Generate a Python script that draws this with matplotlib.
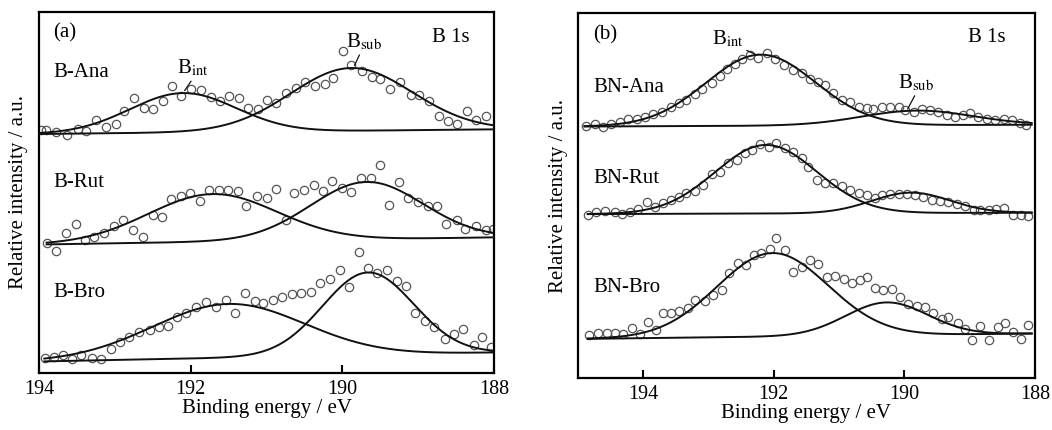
import numpy as np
import matplotlib
matplotlib.use('Agg')
import matplotlib.pyplot as plt

plt.rcParams['font.family'] = ['Liberation Serif', 'DejaVu Serif']
plt.rcParams['mathtext.fontset'] = 'stix'

# ---- panel (a): measured points, binding energy (eV) / relative intensity (a.u.)
b_ana_e = [193.98, 193.91, 193.78, 193.63, 193.49, 193.38, 193.25, 193.12, 192.99, 192.88,
           192.75, 192.61, 192.50, 192.37, 192.24, 192.13, 191.99, 191.86, 191.73, 191.62,
           191.49, 191.36, 191.24, 191.11, 191.00, 190.87, 190.74, 190.61, 190.49, 190.36,
           190.23, 190.12, 189.99, 189.88, 189.74, 189.61, 189.50, 189.37, 189.24, 189.10,
           188.99, 188.86, 188.73, 188.61, 188.49, 188.36, 188.24, 188.11]
b_ana_i = [67.2, 67.2, 66.5, 65.6, 67.4, 66.9, 69.9, 67.9, 68.7, 72.3,
           76.1, 73.3, 73.0, 75.3, 79.5, 76.5, 78.6, 78.3, 76.3, 75.3,
           76.5, 76.1, 73.3, 73.0, 75.5, 74.6, 77.4, 78.9, 80.5, 79.3,
           79.8, 81.7, 89.1, 85.1, 83.5, 82.0, 81.4, 78.6, 80.5, 77.0,
           77.0, 75.3, 70.9, 69.6, 68.8, 72.5, 69.8, 71.0]

b_rut_e = [193.89, 193.78, 193.64, 193.51, 193.39, 193.27, 193.14, 193.01, 192.89, 192.76,
           192.63, 192.50, 192.38, 192.26, 192.13, 192.01, 191.88, 191.76, 191.63, 191.51,
           191.38, 191.27, 191.13, 191.00, 190.88, 190.74, 190.64, 190.51, 190.38, 190.25,
           190.13, 190.00, 189.88, 189.76, 189.62, 189.50, 189.38, 189.25, 189.13, 189.00,
           188.87, 188.75, 188.63, 188.49, 188.38, 188.24, 188.11, 188.01]
b_rut_i = [35.5, 33.5, 38.4, 40.9, 36.5, 37.4, 38.3, 40.3, 41.9, 39.3,
           37.2, 43.3, 43.0, 47.9, 48.8, 49.5, 47.4, 50.5, 50.5, 50.5,
           50.2, 45.8, 48.7, 48.1, 50.7, 42.0, 49.5, 50.5, 51.9, 50.2,
           52.8, 51.0, 49.7, 53.7, 53.7, 57.5, 46.3, 52.7, 48.1, 47.0,
           46.0, 46.0, 40.9, 42.0, 39.5, 40.3, 39.3, 39.5]

b_bro_e = [193.92, 193.80, 193.68, 193.56, 193.44, 193.30, 193.18, 193.05, 192.93, 192.81,
           192.68, 192.54, 192.42, 192.30, 192.18, 192.06, 191.93, 191.80, 191.67, 191.54,
           191.41, 191.29, 191.15, 191.04, 190.91, 190.79, 190.66, 190.54, 190.41, 190.29,
           190.16, 190.03, 189.91, 189.78, 189.66, 189.54, 189.41, 189.28, 189.16, 189.04,
           188.91, 188.79, 188.65, 188.53, 188.41, 188.27, 188.16, 188.04]
b_bro_i = [3.5, 3.9, 4.5, 3.3, 4.5, 3.5, 3.3, 6.0, 7.9, 9.3,
           10.7, 11.3, 12.3, 12.6, 15.1, 16.0, 17.7, 19.3, 17.9, 19.7,
           16.0, 21.6, 19.5, 18.8, 19.7, 20.7, 21.4, 21.7, 22.1, 24.4,
           25.6, 28.1, 23.4, 33.2, 28.7, 27.4, 28.1, 25.1, 23.7, 16.0,
           14.0, 12.3, 8.8, 10.4, 11.6, 7.3, 9.5, 6.7]

# ---- panel (b)
bn_ana_e = [194.87, 194.74, 194.61, 194.49, 194.36, 194.23, 194.10, 193.97, 193.85, 193.71,
            193.57, 193.45, 193.34, 193.21, 193.10, 192.95, 192.83, 192.72, 192.60, 192.49,
            192.37, 192.24, 192.11, 191.98, 191.85, 191.70, 191.57, 191.45, 191.32, 191.22,
            191.09, 190.96, 190.83, 190.70, 190.58, 190.48, 190.35, 190.22, 190.09, 189.99,
            189.86, 189.73, 189.61, 189.48, 189.35, 189.22, 189.10, 188.99, 188.87, 188.74,
            188.61, 188.48, 188.35, 188.23, 188.13]
bn_ana_i = [69.0, 69.6, 68.7, 69.6, 70.2, 70.9, 71.1, 71.4, 72.3, 73.0,
            74.2, 75.3, 76.3, 77.8, 79.1, 80.9, 82.7, 84.6, 86.0, 87.3,
            88.5, 87.6, 89.0, 87.3, 85.8, 84.4, 83.7, 81.8, 81.2, 80.3,
            78.0, 76.2, 75.7, 74.2, 73.9, 73.6, 74.2, 74.2, 74.2, 73.4,
            73.0, 73.6, 73.4, 73.0, 72.1, 71.6, 72.1, 72.5, 71.4, 70.9,
            70.7, 71.1, 70.7, 69.8, 69.3]

bn_rut_e = [194.84, 194.72, 194.59, 194.44, 194.33, 194.20, 194.08, 193.95, 193.82, 193.69,
            193.57, 193.45, 193.34, 193.21, 193.08, 192.95, 192.83, 192.70, 192.57, 192.44,
            192.34, 192.21, 192.08, 191.96, 191.83, 191.70, 191.57, 191.47, 191.34, 191.22,
            191.09, 190.96, 190.83, 190.70, 190.58, 190.45, 190.35, 190.22, 190.09, 189.96,
            189.84, 189.71, 189.58, 189.45, 189.33, 189.20, 189.07, 188.94, 188.84, 188.71,
            188.60, 188.47, 188.34, 188.21, 188.10]
bn_rut_i = [44.7, 45.6, 45.8, 45.6, 44.9, 45.6, 46.2, 48.3, 46.8, 48.0,
            48.8, 49.7, 50.6, 51.3, 52.9, 55.9, 56.5, 58.8, 59.7, 61.7,
            62.6, 64.1, 63.4, 64.5, 62.9, 62.0, 60.2, 57.9, 54.2, 53.5,
            53.3, 52.6, 51.5, 50.6, 50.1, 49.2, 50.1, 50.3, 50.4, 50.4,
            50.1, 49.7, 48.8, 48.6, 48.3, 47.7, 47.1, 46.0, 46.0, 46.0,
            46.2, 46.5, 44.7, 44.7, 44.4]

bn_bro_e = [194.83, 194.70, 194.56, 194.43, 194.31, 194.18, 194.05, 193.93, 193.81, 193.69,
            193.57, 193.45, 193.31, 193.20, 193.05, 192.93, 192.80, 192.69, 192.55, 192.43,
            192.31, 192.19, 192.06, 191.96, 191.83, 191.70, 191.57, 191.45, 191.32, 191.19,
            191.06, 190.93, 190.81, 190.68, 190.58, 190.45, 190.32, 190.19, 190.07, 189.94,
            189.81, 189.69, 189.56, 189.43, 189.33, 189.18, 189.07, 188.97, 188.84, 188.70,
            188.57, 188.46, 188.34, 188.21, 188.10]
bn_bro_i = [11.8, 12.2, 12.4, 12.4, 12.0, 13.6, 12.1, 15.4, 13.2, 17.9,
            17.9, 18.4, 19.1, 21.4, 21.2, 22.7, 24.1, 28.7, 31.4, 31.0,
            33.7, 34.2, 35.3, 38.3, 35.1, 29.1, 30.3, 32.3, 31.2, 27.8,
            27.9, 27.0, 26.1, 26.8, 27.6, 24.6, 24.1, 24.3, 22.1, 20.3,
            19.7, 19.5, 17.7, 16.1, 16.6, 15.2, 13.3, 10.4, 14.2, 10.4,
            13.9, 15.0, 12.7, 10.6, 14.5]

# fitted components: (centre eV, sigma eV, height a.u.); background (high-E end, low-E end)
b_ana_int, b_ana_sub, b_ana_bg = (192.10, 0.70, 11.0), (189.88, 0.80, 17.5), (66.0, 67.3)
b_rut_int, b_rut_sub, b_rut_bg = (191.71, 0.85, 13.3), (189.68, 0.74, 16.0), (35.2, 37.2)
b_bro_int, b_bro_sub, b_bro_bg = (191.50, 1.00, 15.0), (189.66, 0.60, 23.0), (2.6, 5.1)
bn_ana_int, bn_ana_sub, bn_ana_bg = (192.20, 0.84, 19.5), (189.80, 0.85, 4.0), (68.9, 69.4)
bn_rut_int, bn_rut_sub, bn_rut_bg = (192.12, 0.78, 18.8), (189.90, 0.60, 5.6), (44.9, 45.3)
bn_bro_int, bn_bro_sub, bn_bro_bg = (192.02, 0.85, 22.9), (190.27, 0.63, 9.0), (10.7, 12.2)

sample_a = ['B-Ana', 'B-Rut', 'B-Bro']
sample_b = ['BN-Ana', 'BN-Rut', 'BN-Bro']


def component(e, peak, bg, e_hi, e_lo):
    # gaussian on a linear background
    centre, sigma, height = peak
    base = bg[0] + (bg[1] - bg[0]) * (e_hi - e) / (e_hi - e_lo)
    return base + height * np.exp(-(e - centre) ** 2 / (2 * sigma ** 2))


def draw_spectrum(ax, e, y, peaks, bg, e_hi, e_lo, e_start, e_end):
    ax.plot(e, y, 'o', ms=6, mfc='none', mec='#555555', mew=0.9, zorder=2)
    grid = np.linspace(e_start, e_end, 400)
    for peak in peaks:
        ax.plot(grid, component(grid, peak, bg, e_hi, e_lo), color='#111111', lw=1.4, zorder=3)


fig = plt.figure(figsize=(10.52, 4.30), dpi=100)
ax_a = fig.add_axes([0.0371, 0.1326, 0.4325, 0.8395])
ax_b = fig.add_axes([0.5494, 0.1209, 0.4344, 0.8488])

draw_spectrum(ax_a, b_ana_e, b_ana_i, [b_ana_int, b_ana_sub], b_ana_bg, 194, 188, 194.0, 188.0)
draw_spectrum(ax_a, b_rut_e, b_rut_i, [b_rut_int, b_rut_sub], b_rut_bg, 194, 188, 193.9, 188.0)
draw_spectrum(ax_a, b_bro_e, b_bro_i, [b_bro_int, b_bro_sub], b_bro_bg, 194, 188, 193.93, 188.0)

draw_spectrum(ax_b, bn_ana_e, bn_ana_i, [bn_ana_int, bn_ana_sub], bn_ana_bg, 195, 188, 194.9, 188.05)
draw_spectrum(ax_b, bn_rut_e, bn_rut_i, [bn_rut_int, bn_rut_sub], bn_rut_bg, 195, 188, 194.85, 188.05)
draw_spectrum(ax_b, bn_bro_e, bn_bro_i, [bn_bro_int, bn_bro_sub], bn_bro_bg, 195, 188, 194.85, 188.05)

ax_a.set_xlim(194, 188)
ax_a.set_ylim(-0.6, 100)
ax_b.set_xlim(195, 188)
ax_b.set_ylim(0, 100)

for ax in (ax_a, ax_b):
    ax.set_xticks([194, 192, 190, 188])
    ax.set_yticks([])
    ax.tick_params(axis='x', direction='in', length=6, width=1.5, labelsize=14.5, pad=5, top=False)
    for sp in ax.spines.values():
        sp.set_linewidth(1.6)
    ax.set_xlabel('Binding energy / eV', fontsize=15, labelpad=0)
    ax.set_ylabel('Relative intensity / a.u.', fontsize=15)

ax_a.yaxis.set_label_coords(-0.0235, 0.5)
ax_b.yaxis.set_label_coords(-0.0212, 0.5)

# panel labels and sample names
ax_a.text(0.031, 0.942, '(a)', transform=ax_a.transAxes, fontsize=15, va='center')
ax_a.text(0.864, 0.928, 'B 1s', transform=ax_a.transAxes, fontsize=15, va='center')
for name, yy in zip(sample_a, [0.832, 0.529, 0.224]):
    ax_a.text(0.031, yy, name, transform=ax_a.transAxes, fontsize=15, va='center')

ax_b.text(0.033, 0.940, '(b)', transform=ax_b.transAxes, fontsize=15, va='center')
ax_b.text(0.853, 0.932, 'B 1s', transform=ax_b.transAxes, fontsize=15, va='center')
for name, yy in zip(sample_b, [0.795, 0.548, 0.247]):
    ax_b.text(0.033, yy, name, transform=ax_b.transAxes, fontsize=15, va='center')

# peak labels with leader lines
lead = dict(arrowstyle='-', lw=0.9, color='#111111', shrinkA=0, shrinkB=0)
ax_a.annotate(r'B$_{\mathrm{int}}$', xy=(192.08, 78.1), xytext=(191.97, 81.5), fontsize=15,
              ha='center', va='bottom', arrowprops=dict(lead, relpos=(0.5, 0)))
ax_a.annotate(r'B$_{\mathrm{sub}}$', xy=(189.84, 85.1), xytext=(189.71, 88.8), fontsize=15,
              ha='center', va='bottom', arrowprops=dict(lead, relpos=(0.4, 0)))
ax_b.annotate(r'B$_{\mathrm{int}}$', xy=(192.26, 88.5), xytext=(192.70, 90.1), fontsize=15,
              ha='center', va='bottom', arrowprops=dict(lead, relpos=(1.0, 0)))
ax_b.annotate(r'B$_{\mathrm{sub}}$', xy=(189.95, 73.7), xytext=(189.82, 78.1), fontsize=15,
              ha='center', va='bottom', arrowprops=dict(lead, relpos=(0.5, 0)))

fig.savefig('out.png', dpi=100)
plt.close(fig)
